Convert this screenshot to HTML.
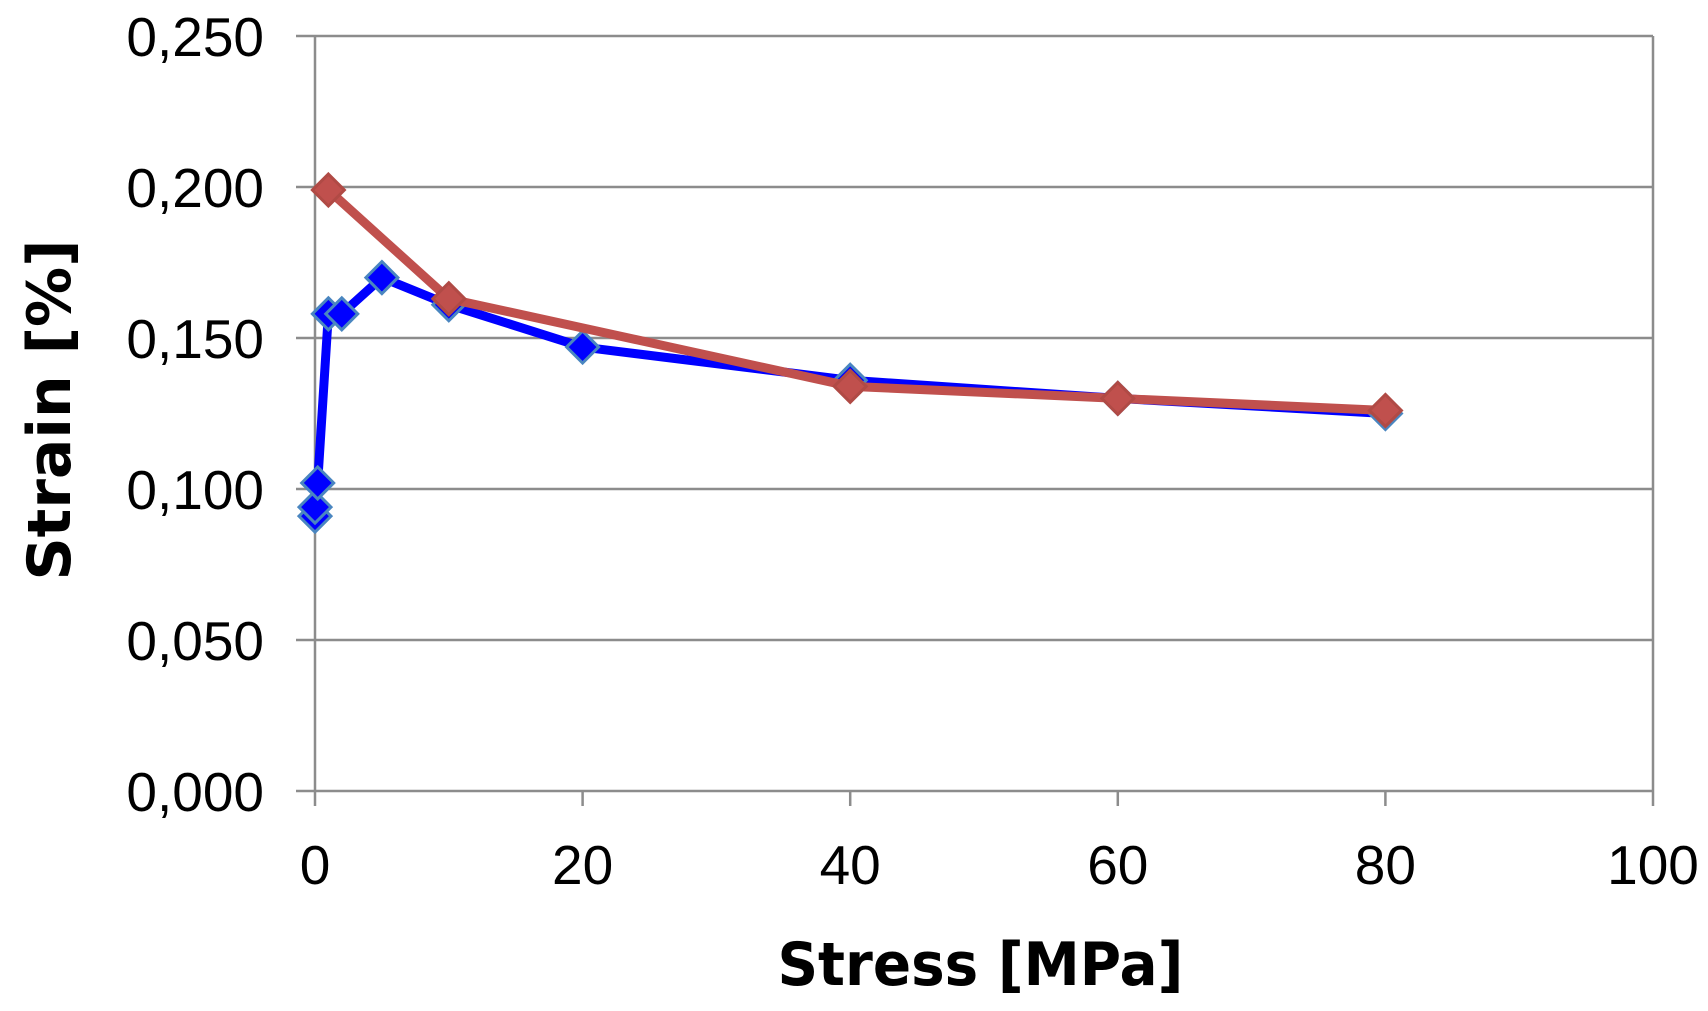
<!DOCTYPE html>
<html><head><meta charset="utf-8"><style>html,body{margin:0;padding:0;background:#fff}svg{display:block}</style></head>
<body>
<svg id="chart" width="1708" height="1011" viewBox="0 0 1708 1011" xmlns="http://www.w3.org/2000/svg" font-family="Liberation Sans, sans-serif">
<g id="grid"></g>
<g id="axes"></g>
<g id="series"></g>
<text x="980" y="985" text-anchor="middle" font-size="60" font-weight="bold" font-family="DejaVu Sans, sans-serif" transform="scale(0.94,1) translate(63,0)">Stress [MPa]</text>
<text x="0" y="0" text-anchor="middle" font-size="60" font-weight="bold" font-family="DejaVu Sans, sans-serif" transform="translate(70,410) rotate(-90)">Strain [%]</text>
</svg>
<script>
const xTicks=[0,20,40,60,80,100];
const yTicks=[0,0.05,0.1,0.15,0.2,0.25];
const yTickLabels=["0,000","0,050","0,100","0,150","0,200","0,250"];
const blueX=[0,0,0.2,1,2,5,10,20,40,60,80];
const blueY=[0.091,0.094,0.102,0.158,0.158,0.170,0.161,0.147,0.136,0.130,0.125];
const redX=[1,10,40,60,80];
const redY=[0.199,0.163,0.134,0.130,0.126];
const L=315,R=1653,T=36,B=791;
const sx=v=>L+(v/100)*(R-L);
const sy=v=>B-(v/0.25)*(B-T);
const NS="http://www.w3.org/2000/svg";
function mk(tag,parent,attrs){const e=document.createElementNS(NS,tag);for(const k in attrs)e.setAttribute(k,attrs[k]);parent.appendChild(e);return e;}
const grid=document.getElementById('grid'),axes=document.getElementById('axes'),ser=document.getElementById('series');
yTicks.forEach((v,i)=>{
  const y=sy(v);
  const g=mk('line',grid,{x1:296,x2:R,y1:y,y2:y,stroke:'#8c8c8c','stroke-width':2.5});
  
  
  const t=mk('text',axes,{x:264,y:y+20,'text-anchor':'end','font-size':55,fill:'#000'});
  t.textContent=yTickLabels[i];
  
  
});
const yl=mk('line',axes,{x1:L,x2:L,y1:T,y2:B,stroke:'#8c8c8c','stroke-width':2.5});


const rl=mk('line',axes,{x1:R,x2:R,y1:T,y2:B,stroke:'#8c8c8c','stroke-width':2.5});


xTicks.forEach(v=>{
  const x=sx(v);
  const tk=mk('line',axes,{x1:x,x2:x,y1:B,y2:806,stroke:'#8c8c8c','stroke-width':2.5});
  
  
  const t=mk('text',axes,{x:x,y:884,'text-anchor':'middle','font-size':55,fill:'#000'});
  t.textContent=String(v);
  
  
});
function series(xs,ys,col,name){
  const pts=xs.map((x,i)=>sx(x)+','+sy(ys[i])).join(' ');
  const pl=mk('polyline',ser,{points:pts,fill:'none',stroke:col,'stroke-width':9,'stroke-linejoin':'round'});
  
  
  xs.forEach((x,i)=>{
    const cx=sx(x),cy=sy(ys[i]),s=16;
    const m=mk('polygon',ser,{points:`${cx},${cy-s} ${cx+s},${cy} ${cx},${cy+s} ${cx-s},${cy}`,fill:col,stroke:name==='blue-series'?'#4a86c0':'#b04a45','stroke-width':3});
    
    
  });
}
series(blueX,blueY,'#0000ff','blue-series');
series(redX,redY,'#c0504d','red-series');
</script>
</body></html>
